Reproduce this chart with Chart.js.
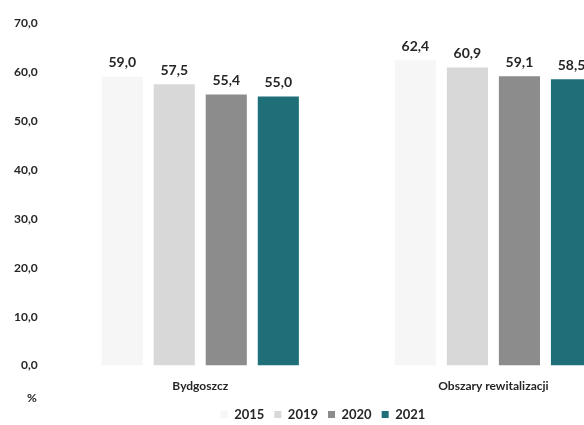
<!doctype html>
<html>
<head>
<title>Bydgoszcz - obszary rewitalizacji</title>
<script src="https://cdn.jsdelivr.net/npm/chart.js@4/dist/chart.umd.min.js"></script>
<style>
	html, body { margin: 0; padding: 0; background: #fff; overflow: hidden; }
	#wrap { width: 660px; height: 425px; }
</style>
</head>
<body>
<div id="wrap">
	<canvas id="canvas" width="660" height="425"></canvas>
</div>
<script>
	var categories = ['Bydgoszcz', 'Obszary rewitalizacji'];
	var years = ['2015', '2019', '2020', '2021'];
	var values2015 = [59.0, 62.4];
	var values2019 = [57.5, 60.9];
	var values2020 = [55.4, 59.1];
	var values2021 = [55.0, 58.5];
	var yTicks = [0, 10, 20, 30, 40, 50, 60, 70];
	var colors = ['#f6f6f6', '#d8d8d8', '#8c8c8c', '#1e6f78'];

	var FONT = 'Lato, "Open Sans", sans-serif';

	function fmt(v) {
		return v.toFixed(1).replace('.', ',');
	}

	// value above each bar
	var valueLabels = {
		id: 'valueLabels',
		afterDatasetsDraw: function(chart) {
			var ctx = chart.ctx;
			ctx.save();
			ctx.font = 'bold 14px ' + FONT;
			ctx.fillStyle = '#262626';
			ctx.textAlign = 'center';
			ctx.textBaseline = 'middle';
			chart.data.datasets.forEach(function(ds, i) {
				chart.getDatasetMeta(i).data.forEach(function(bar, j) {
					ctx.fillText(fmt(ds.data[j]), bar.x, bar.y - 14);
				});
			});
			ctx.restore();
		}
	};

	// "%" under the y axis
	var unitLabel = {
		id: 'unitLabel',
		afterDraw: function(chart) {
			var ctx = chart.ctx;
			var y = chart.scales.y;
			ctx.save();
			ctx.font = 'bold 12px ' + FONT;
			ctx.fillStyle = '#262626';
			ctx.textAlign = 'center';
			ctx.textBaseline = 'middle';
			ctx.fillText('%', (y.left + y.right) / 2 + 2, chart.chartArea.bottom + 33);
			ctx.restore();
		}
	};

	// wider gaps between legend items without a taller legend
	var legendHeight = {
		id: 'legendHeight',
		beforeInit: function(chart) {
			var fit = chart.legend.fit;
			chart.legend.fit = function() {
				fit.call(this);
				this.height -= 6;
			};
		}
	};

	var allValues = [values2015, values2019, values2020, values2021];
	var datasets = years.map(function(yr, i) {
		return {
			label: yr,
			data: allValues[i],
			backgroundColor: colors[i],
			borderWidth: 0,
			categoryPercentage: 0.71,
			barPercentage: 0.79
		};
	});

	window.onload = function() {
		var ctx = document.getElementById('canvas').getContext('2d');
		window.myBar = new Chart(ctx, {
			type: 'bar',
			data: { labels: categories, datasets: datasets },
			plugins: [valueLabels, unitLabel, legendHeight],
			options: {
				responsive: false,
				animation: false,
				devicePixelRatio: 1,
				layout: { padding: { top: 23, left: 6, right: 20, bottom: 0 } },
				plugins: {
					legend: {
						position: 'bottom',
						labels: {
							boxWidth: 7,
							boxHeight: 7,
							padding: 10,
							color: '#262626',
							font: { family: FONT, size: 13, weight: 'bold' }
						}
					},
					tooltip: { enabled: false }
				},
				scales: {
					x: {
						grid: { display: false },
						border: { display: false },
						ticks: {
							color: '#262626',
							padding: 5,
							font: { family: FONT, size: 12, weight: 'bold' }
						}
					},
					y: {
						min: yTicks[0],
						max: yTicks[yTicks.length - 1],
						grid: { display: false },
						border: { display: false },
						afterBuildTicks: function(axis) {
							axis.ticks = yTicks.map(function(v) { return { value: v }; });
						},
						ticks: {
							color: '#262626',
							padding: 8,
							font: { family: FONT, size: 12, weight: 'bold' },
							callback: function(v) { return fmt(v); }
						}
					}
				}
			}
		});
	};
</script>
</body>
</html>
